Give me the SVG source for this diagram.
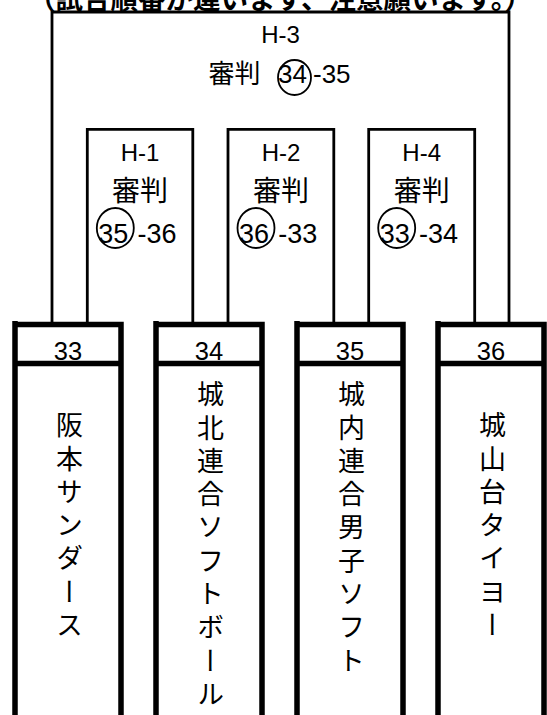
<svg xmlns="http://www.w3.org/2000/svg" width="547" height="715" viewBox="0 0 547 715">
<style>
.bk{fill:none;stroke:#000;stroke-width:2.8;stroke-linejoin:miter}
.tb{fill:none;stroke:#000;stroke-width:5.5;stroke-linejoin:miter}
.lat{font-family:"Liberation Sans","Noto Sans CJK JP",sans-serif;fill:#000}
.jp{font-family:"Noto Sans CJK JP",sans-serif;fill:#000}
.vt{font-family:"Noto Sans CJK JP",sans-serif;font-size:27px;writing-mode:vertical-rl;letter-spacing:6.3px;fill:#000}
.num{font-size:25.5px;text-anchor:middle}
.hl{font-size:24px;text-anchor:middle}
.mid{text-anchor:middle}
.ring{fill:none;stroke:#000;stroke-width:1.8}
</style>
<rect width="547" height="715" fill="#fff"/>
<text id="title" x="280" y="8.5" class="jp" font-size="27.5" font-weight="700" text-anchor="middle">（試合順番が違います、注意願います。）</text>

<g id="connectors">
  <path class="bk" d="M52,324 V12 H509 V324"/>
  <path class="bk" d="M87.3,324 V129.3 H192.8 V324"/>
  <path class="bk" d="M228,324 V129.3 H333.8 V324"/>
  <path class="bk" d="M368.7,324 V129.3 H474.7 V324"/>
</g>

<g id="match-H3">
  <text class="lat hl" x="280.5" y="43">H-3</text>
  <text class="jp" font-size="26" x="208.5" y="83">審判</text>
  <ellipse class="ring" cx="294.5" cy="77.5" rx="16.5" ry="17.5"/>
  <text class="lat mid" font-size="26" x="292.5" y="83">34</text>
  <text class="lat" font-size="26" x="313" y="83">-35</text>
</g>

<g id="match-H1">
  <text class="lat hl" x="140" y="161">H-1</text>
  <text class="jp mid" font-size="28" x="140" y="201">審判</text>
  <ellipse class="ring" cx="115.3" cy="228" rx="18.5" ry="20"/>
  <text class="lat mid" font-size="27" x="113.3" y="243">35</text>
  <text class="lat" font-size="27" x="137.5" y="243">-36</text>
</g>

<g id="match-H2">
  <text class="lat hl" x="281" y="161">H-2</text>
  <text class="jp mid" font-size="28" x="281" y="201">審判</text>
  <ellipse class="ring" cx="256" cy="228" rx="18.5" ry="20"/>
  <text class="lat mid" font-size="27" x="254" y="243">36</text>
  <text class="lat" font-size="27" x="278.2" y="243">-33</text>
</g>

<g id="match-H4">
  <text class="lat hl" x="421.7" y="161">H-4</text>
  <text class="jp mid" font-size="28" x="421.7" y="201">審判</text>
  <ellipse class="ring" cx="396.7" cy="228" rx="18.5" ry="20"/>
  <text class="lat mid" font-size="27" x="394.7" y="243">33</text>
  <text class="lat" font-size="27" x="418.9" y="243">-34</text>
</g>

<g id="team-33">
  <path class="tb" d="M15,321 V720 M12.25,324.5 H121 V720 M15,363.5 H121"/>
  <text class="lat num" x="68" y="360">33</text>
  <text class="vt" x="69.5" y="411.5">阪本サンダース</text>
</g>
<g id="team-34">
  <path class="tb" d="M156,321 V720 M153.25,324.5 H262 V720 M156,363.5 H262"/>
  <text class="lat num" x="209" y="360">34</text>
  <text class="vt" x="210.5" y="380.5">城北連合ソフトボール</text>
</g>
<g id="team-35">
  <path class="tb" d="M297,321 V720 M294.25,324.5 H403 V720 M297,363.5 H403"/>
  <text class="lat num" x="350" y="360">35</text>
  <text class="vt" x="351.5" y="380.5">城内連合男子ソフト</text>
</g>
<g id="team-36">
  <path class="tb" d="M438,321 V720 M435.25,324.5 H544 V720 M438,363.5 H544"/>
  <text class="lat num" x="491" y="360">36</text>
  <text class="vt" x="492.5" y="411.5">城山台タイヨー</text>
</g>
</svg>
